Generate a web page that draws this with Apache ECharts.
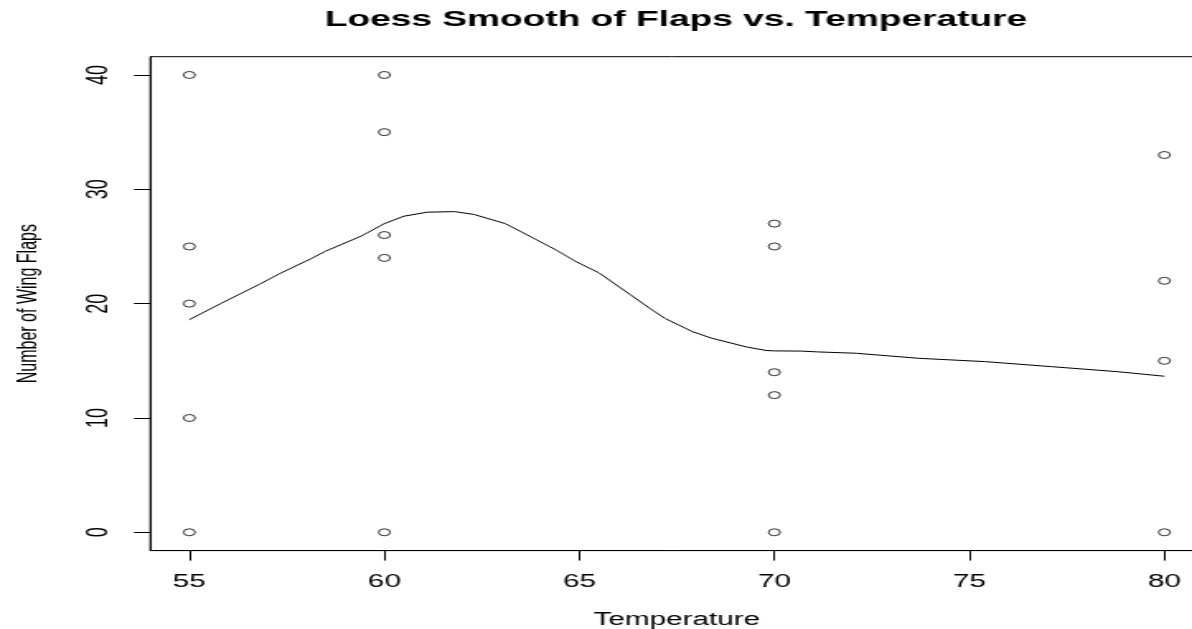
<!DOCTYPE html>
<html>
<head>
<meta charset="utf-8">
<script src="https://cdn.jsdelivr.net/npm/echarts@6/dist/echarts.min.js"></script>
<style>
  html, body { margin: 0; padding: 0; background: #fff; overflow: hidden; }
  #wrap { width: 1192px; height: 629px; overflow: hidden; }
  #chart { width: 723px; height: 629px; transform: scaleX(1.6487); transform-origin: 0 0; }
</style>
</head>
<body>
<div id="wrap"><div id="chart"></div></div>
<script>
// Observed data: temperature vs number of wing flaps
const tempX = [55, 55, 55, 55, 55, 60, 60, 60, 60, 60, 70, 70, 70, 70, 70, 80, 80, 80, 80];
const flapsY = [40, 25, 20, 10, 0, 40, 35, 26, 24, 0, 27, 25, 14, 12, 0, 33, 22, 15, 0];

// Loess smooth curve
const loessX = [55, 55.8, 56.8, 57.3, 58.1, 58.5, 59.4, 60, 60.5, 61.1, 61.8, 62.3, 62.7, 63.1, 63.5, 64.4, 64.9, 65.5, 66.3, 66.8, 67.2, 67.9, 68.4, 69.3, 69.8, 70, 70.7, 71.1, 72.1, 73.7, 75.4, 77.1, 78.8, 80];
const loessY = [18.6, 20.0, 21.7, 22.6, 23.9, 24.6, 25.9, 27.0, 27.65, 28.0, 28.05, 27.8, 27.4, 27.0, 26.3, 24.7, 23.7, 22.7, 20.8, 19.6, 18.7, 17.55, 16.97, 16.2, 15.9, 15.87, 15.85, 15.78, 15.66, 15.22, 14.93, 14.49, 14.05, 13.65];

// Tick labels
const xTicks = [55, 60, 65, 70, 75, 80];
const yTicks = [0, 10, 20, 30, 40];

const FONT = '"Liberation Sans", Arial, sans-serif';

const chart = echarts.init(document.getElementById('chart'), null, { renderer: 'canvas' });
chart.setOption({
  animation: false,
  backgroundColor: '#ffffff',
  title: {
    text: 'Loess Smooth of Flaps vs. Temperature',
    left: 405,
    textAlign: 'center',
    top: 3,
    textStyle: { fontFamily: FONT, fontSize: 22.5, fontWeight: 'bold', color: '#000' }
  },
  grid: {
    left: 91.2, top: 56.7, width: 638.7, height: 493.9,
    show: true, borderColor: '#000', borderWidth: 1, backgroundColor: 'transparent',
    containLabel: false,
    outerBoundsMode: 'none'
  },
  xAxis: {
    type: 'value', min: 54, max: 81,
    name: 'Temperature', nameLocation: 'middle', nameGap: 60,
    nameTextStyle: { fontFamily: FONT, fontSize: 18, color: '#000' },
    axisLine: { show: true, onZero: false, lineStyle: { color: '#000', width: 1 } },
    axisTick: { show: true, length: 10, customValues: xTicks, lineStyle: { color: '#000', width: 1 } },
    axisLabel: { customValues: xTicks, margin: 22, fontFamily: FONT, fontSize: 18, color: '#000' },
    splitLine: { show: false }
  },
  yAxis: {
    type: 'value', min: -1.6, max: 41.6,
    name: 'Number of Wing Flaps', nameLocation: 'middle', nameGap: 66, nameRotate: 90,
    nameTextStyle: { fontFamily: FONT, fontSize: 16, color: '#000' },
    axisLine: { show: true, onZero: false, lineStyle: { color: '#000', width: 1 } },
    axisTick: { show: true, length: 10, customValues: yTicks, lineStyle: { color: '#000', width: 1 } },
    axisLabel: { customValues: yTicks, rotate: 90, margin: 22, fontFamily: FONT, fontSize: 18, color: '#000' },
    splitLine: { show: false }
  },
  series: [
    {
      type: 'line',
      data: loessX.map((x, i) => [x, loessY[i]]),
      showSymbol: false,
      smooth: false,
      lineStyle: { color: '#000', width: 1 },
      z: 2
    },
    {
      type: 'scatter',
      data: tempX.map((x, i) => [x, flapsY[i]]),
      symbol: 'circle',
      symbolSize: 7,
      itemStyle: { color: 'rgba(0,0,0,0)', borderColor: '#000', borderWidth: 1 },
      z: 3
    }
  ]
});
</script>
</body>
</html>
